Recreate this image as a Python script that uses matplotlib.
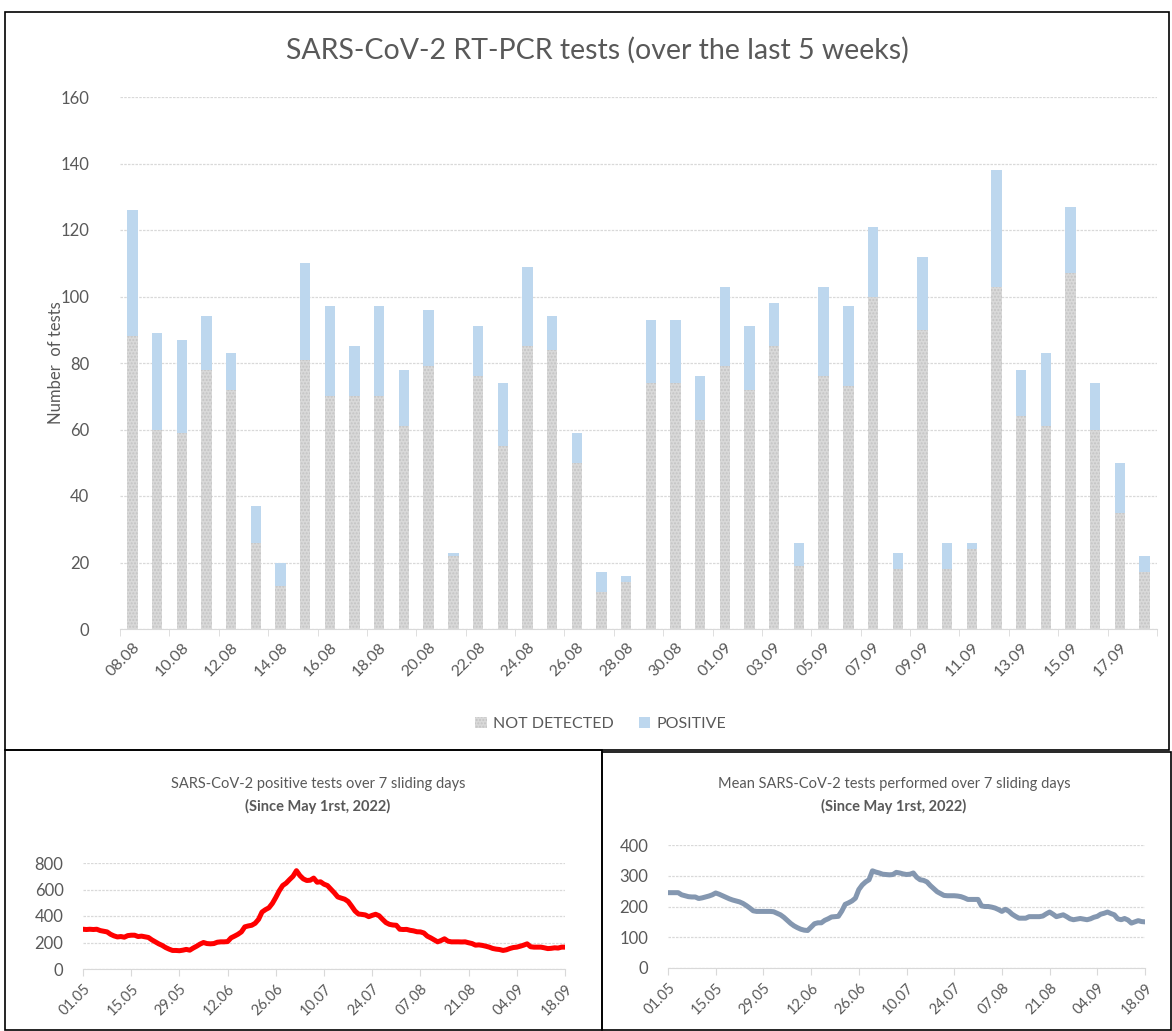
import matplotlib
matplotlib.use("Agg")
import matplotlib.pyplot as plt
from matplotlib.patches import Rectangle, Patch
import numpy as np
import pandas as pd

plt.rcParams['font.family'] = ['Lato', 'DejaVu Sans']

# ---------------- data ----------------
bar_dates = ["08.08", "09.08", "10.08", "11.08", "12.08", "13.08", "14.08", "15.08", "16.08", "17.08",
             "18.08", "19.08", "20.08", "21.08", "22.08", "23.08", "24.08", "25.08", "26.08", "27.08",
             "28.08", "29.08", "30.08", "31.08", "01.09", "02.09", "03.09", "04.09", "05.09", "06.09",
             "07.09", "08.09", "09.09", "10.09", "11.09", "12.09", "13.09", "14.09", "15.09", "16.09",
             "17.09", "18.09"]
not_detected = [88, 60, 59, 78, 72, 26, 13, 81, 70, 70,
                70, 61, 79, 22, 76, 55, 85, 84, 50, 11,
                14, 74, 74, 63, 79, 72, 85, 19, 76, 73,
                100, 18, 90, 18, 24, 103, 64, 61, 107, 60,
                35, 17]
total_tests = [126, 89, 87, 94, 83, 37, 20, 110, 97, 85,
               97, 78, 96, 23, 91, 74, 109, 94, 59, 17,
               16, 93, 93, 76, 103, 91, 98, 26, 103, 97,
               121, 23, 112, 26, 26, 138, 78, 83, 127, 74,
               50, 22]
positive = [t - n for t, n in zip(total_tests, not_detected)]

line_dates = pd.date_range("2022-05-01", "2022-09-18", freq="D")
positive_7d = [300, 298, 300, 298, 300, 290, 285, 280, 262, 250,
               242, 245, 240, 252, 255, 255, 245, 248, 243, 238,
               220, 205, 190, 178, 162, 150, 140, 140, 138, 142,
               148, 142, 158, 172, 188, 200, 192, 190, 192, 202,
               205, 205, 207, 235, 248, 262, 280, 318, 325, 330,
               345, 375, 430, 448, 462, 495, 540, 590, 630, 648,
               675, 700, 742, 705, 680, 668, 670, 686, 655, 658,
               640, 630, 603, 575, 544, 535, 527, 510, 475, 438,
               415, 412, 408, 395, 405, 413, 402, 375, 350, 337,
               332, 330, 300, 298, 299, 292, 288, 281, 280, 272,
               248, 235, 220, 205, 215, 228, 210, 205, 205, 205,
               204, 205, 198, 192, 180, 182, 178, 172, 165, 155,
               150, 147, 140, 145, 155, 162, 165, 172, 180, 190,
               168, 165, 165, 165, 160, 154, 156, 160, 158, 165,
               165]
mean_tests_7d = [245, 245, 245, 245, 238, 235, 232, 231, 231, 226,
                 228, 231, 234, 238, 244, 240, 235, 230, 225, 221,
                 218, 215, 210, 203, 195, 186, 184, 184, 184, 184,
                 184, 183, 178, 173, 165, 155, 145, 137, 131, 126,
                 123, 122, 133, 144, 147, 147, 155, 160, 166, 167,
                 168, 185, 207, 212, 218, 227, 255, 270, 280, 287,
                 316, 312, 309, 305, 304, 303, 304, 311, 309, 306,
                 304, 305, 309, 295, 287, 285, 280, 268, 258, 248,
                 242, 236, 235, 235, 235, 234, 232, 228, 223, 223,
                 223, 223, 202, 200, 200, 198, 195, 190, 184, 191,
                 185, 175, 168, 162, 162, 162, 167, 167, 167, 167,
                 169, 176, 182, 175, 167, 170, 173, 167, 160, 157,
                 159, 161, 159, 157, 160, 165, 168, 175, 178, 182,
                 177, 173, 160, 157, 161, 156, 146, 150, 154, 151,
                 150]

TXT = '#595959'
GRID = '#d9d9d9'

W, H = 1172, 1031
fig = plt.figure(figsize=(W / 100, H / 100), dpi=100)


def fx(px):
    return px / W


def fy(py):
    return 1 - py / H


# frames
for (x0, y0, x1, y1) in [(5, 12, 1169, 750), (5, 750, 602, 1030), (602, 752, 1171, 1030)]:
    fig.patches.append(Rectangle((fx(x0), fy(y1)), fx(x1 - x0), (y1 - y0) / H,
                                 transform=fig.transFigure, fill=False,
                                 edgecolor='black', linewidth=1.2))

# ---------------- main bar chart ----------------
ax = fig.add_axes([fx(120), fy(629), fx(1157 - 120), (629 - 97) / H])
x = np.arange(len(bar_dates))
ax.bar(x, not_detected, width=0.42, color='#d9d9d9', edgecolor='#c4c4c4',
       linewidth=0, hatch='.....', label='NOT DETECTED', zorder=2)
ax.bar(x, positive, width=0.42, bottom=not_detected, color='#bdd7ee',
       linewidth=0, label='POSITIVE', zorder=2)
ax.set_xlim(-0.5, len(bar_dates) - 0.5)
ax.set_ylim(0, 160)
ax.set_yticks(np.arange(0, 161, 20))
ax.yaxis.grid(True, color=GRID, linestyle=(0, (2, 1)), linewidth=0.9, zorder=0)
ax.set_axisbelow(True)
for s in ['top', 'right', 'left']:
    ax.spines[s].set_visible(False)
ax.spines['bottom'].set_color(GRID)
ax.tick_params(axis='y', length=0, pad=22, labelsize=12, labelcolor=TXT)
ax.set_xticks(x[::2])
ax.set_xticklabels(bar_dates[::2], rotation=45, ha='right', rotation_mode='anchor',
                   fontsize=11.5, color=TXT)
ax.tick_params(axis='x', which='major', length=0, pad=8)
ax.set_xticks(np.arange(-0.5, len(bar_dates), 2), minor=True)
ax.tick_params(axis='x', which='minor', length=5, color=GRID)
ax.set_ylabel('Number  of tests', fontsize=12, color=TXT)
ax.yaxis.set_label_coords((64 - 120) / 1037, 0.5)
fig.text(fx(597), fy(50), 'SARS-CoV-2 RT-PCR tests (over the last 5 weeks)', ha='center',
         va='center', fontsize=20.5, color=TXT)
handles = [Patch(facecolor='#d9d9d9', edgecolor='#c4c4c4', hatch='.....', linewidth=0),
           Patch(facecolor='#bdd7ee', linewidth=0)]
fig.legend(handles, ['NOT DETECTED', 'POSITIVE'], loc='center', bbox_to_anchor=(fx(601), fy(724)),
           ncol=2, frameon=False, fontsize=11.5, labelcolor=TXT, handlelength=0.7,
           handleheight=0.7, handletextpad=0.4, columnspacing=1.6)


def line_panel(axl, values, color, ylim, step):
    n = len(values)
    xi = np.arange(n)
    axl.plot(xi, values, color=color, linewidth=3.6, solid_joinstyle='round', zorder=3)
    axl.set_xlim(0, n - 1)
    axl.set_ylim(0, ylim)
    axl.set_yticks(np.arange(0, ylim + 1, step))
    axl.yaxis.grid(True, color=GRID, linestyle=(0, (2, 1)), linewidth=0.9)
    axl.set_axisbelow(True)
    for s in ['top', 'right', 'left']:
        axl.spines[s].set_visible(False)
    axl.spines['bottom'].set_color(GRID)
    axl.tick_params(axis='y', length=0, pad=14, labelsize=12, labelcolor=TXT)
    ticks = xi[::14]
    axl.set_xticks(ticks)
    axl.set_xticklabels([line_dates[i].strftime('%d.%m') for i in ticks], rotation=45,
                        ha='right', rotation_mode='anchor', fontsize=10.5, color=TXT)
    axl.tick_params(axis='x', length=5, color=GRID, pad=4)


ax2 = fig.add_axes([fx(83), fy(969), fx(565 - 83), (969 - 863) / H])
line_panel(ax2, positive_7d, '#ff0000', 800, 200)
fig.text(fx(318), fy(784), 'SARS-CoV-2 positive tests over 7 sliding days', ha='center',
         va='center', fontsize=10.5, color=TXT)
fig.text(fx(318), fy(806), '(Since May 1rst, 2022)', ha='center', va='center', fontsize=10.5,
         color=TXT, fontweight='bold')

ax3 = fig.add_axes([fx(668), fy(968), fx(1145 - 668), (968 - 845) / H])
line_panel(ax3, mean_tests_7d, '#8497b0', 400, 100)
fig.text(fx(894), fy(784), 'Mean SARS-CoV-2 tests performed over 7 sliding days', ha='center',
         va='center', fontsize=10.5, color=TXT)
fig.text(fx(894), fy(806), '(Since May 1rst, 2022)', ha='center', va='center', fontsize=10.5,
         color=TXT, fontweight='bold')

fig.savefig('out.png', dpi=100, facecolor='white')
